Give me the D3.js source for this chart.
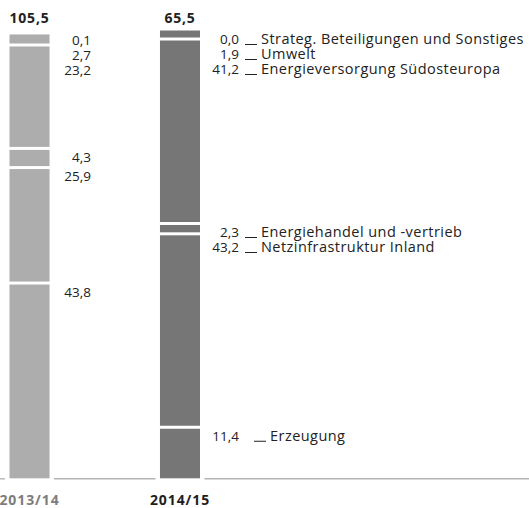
<!DOCTYPE html>
<html>
<head>
<meta charset="utf-8">
<script src="https://cdn.jsdelivr.net/npm/d3@7"></script>
<style>
  html, body { margin: 0; padding: 0; background: #fff; }
  svg { display: block; font-family: "Open Sans", sans-serif; }
</style>
</head>
<body>
<svg id="chart" width="529" height="508"></svg>
<script>
// Fiscal years and their totals (shown above each column)
const years = ["2013/14", "2014/15"];
const totals = ["105,5", "65,5"];

// Segments, stacked bottom-up; shares in percent
const segments = ["Erzeugung", "Netzinfrastruktur Inland", "Energiehandel und -vertrieb",
                  "Energieversorgung Südosteuropa", "Umwelt", "Strateg. Beteiligungen und Sonstiges"];
const shares2013 = [43.8, 25.9, 4.3, 23.2, 2.7, 0.1];
const shares2014 = [11.4, 43.2, 2.3, 41.2, 1.9, 0.0];

const fmt = v => d3.format(".1f")(v).replace(".", ",");

const svg = d3.select("#chart");
const W = 529, baseY = 478.3;
const colors = { "2013/14": "#adadad", "2014/15": "#767676" };
const yearColors = { "2013/14": "#7d7d7d", "2014/15": "#1e1e1e" };
const colTop = { "2013/14": 32.5, "2014/15": 30.5 };
const labelOffset = { "2013/14": 41.5, "2014/15": 39 };
const gap = 3;         // white separation between stacked segments
const lineH = 15;      // minimum vertical spacing of value labels
const nameShift = { "Erzeugung": 9 };

const x = d3.scaleBand().domain(years).range([9.5, 200]).paddingInner(0.734).paddingOuter(0);
const bw = x.bandwidth();

const series = { "2013/14": shares2013, "2014/15": shares2014 };

// Baseline, interrupted around each column
const breaks = [0];
years.forEach(yr => { breaks.push(x(yr) - 4.5, x(yr) + bw + 4.5); });
breaks.push(W);
for (let i = 0; i < breaks.length; i += 2) {
  svg.append("line")
    .attr("x1", breaks[i]).attr("x2", breaks[i + 1])
    .attr("y1", baseY + 0.5).attr("y2", baseY + 0.5)
    .attr("stroke", "#b4b4b4").attr("stroke-width", 1.4);
}

years.forEach((yr, yi) => {
  const vals = series[yr];
  const y = d3.scaleLinear().domain([0, 100]).range([baseY, colTop[yr]]);
  let cum = 0;
  const segs = vals.map((v, i) => {
    const s = { name: segments[i], v, lo: cum, hi: cum + v };
    cum += v;
    return s;
  });
  const nonzero = segs.filter(s => s.v > 0);
  const lastIdx = segs.indexOf(nonzero[nonzero.length - 1]);

  const g = svg.append("g");
  segs.forEach((s, i) => {
    const top = y(s.hi) + (i === lastIdx ? 0 : gap / 2);
    const bot = y(s.lo) - (i === 0 ? 0 : gap / 2);
    s.visTop = top;
    if (bot - top <= 0) return;
    g.append("rect")
      .attr("x", x(yr)).attr("width", bw)
      .attr("y", top).attr("height", bot - top)
      .attr("fill", colors[yr]);
  });

  // Value labels, placed from the top downwards without overlap
  const ordered = segs.slice().reverse();
  let prev = -Infinity;
  ordered.forEach(s => {
    const t = Math.max(s.visTop + 2, prev + lineH);
    s.labelTop = t;
    prev = t;
  });
  const lx = x(yr) + bw + labelOffset[yr];
  ordered.forEach(s => {
    const by = s.labelTop + 10;
    g.append("text")
      .attr("x", lx).attr("y", by)
      .attr("text-anchor", "end")
      .attr("font-size", 13.5).attr("fill", "#222")
      .text(fmt(s.v));
    if (yi === years.length - 1) {
      const dx = lx + 6 + (nameShift[s.name] || 0);
      g.append("line")
        .attr("x1", dx).attr("x2", dx + 12)
        .attr("y1", by + 0.5).attr("y2", by + 0.5)
        .attr("stroke", "#222").attr("stroke-width", 1);
      g.append("text")
        .attr("x", dx + 16).attr("y", by)
        .attr("font-size", 14.5).attr("letter-spacing", 0.45).attr("fill", "#222")
        .text(s.name);
    }
  });

  // Total above the column
  svg.append("text")
    .attr("x", x(yr) + bw / 2).attr("y", 22.5)
    .attr("text-anchor", "middle")
    .attr("font-size", 14).attr("letter-spacing", 0.8)
    .attr("font-weight", "bold").attr("fill", "#222")
    .text(totals[yi]);

  // Year under the column
  svg.append("text")
    .attr("x", x(yr) + bw / 2).attr("y", 505)
    .attr("text-anchor", "middle")
    .attr("font-size", 14).attr("letter-spacing", 0.9)
    .attr("font-weight", "bold").attr("fill", yearColors[yr])
    .text(yr);
});
</script>
</body>
</html>
